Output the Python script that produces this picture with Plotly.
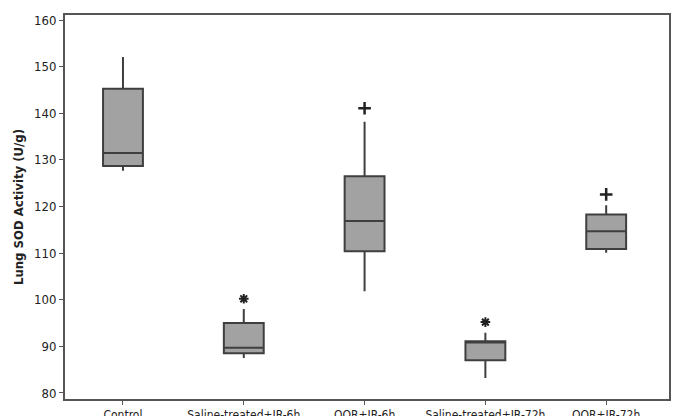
import plotly.graph_objects as go

categories = ["Control", "Saline-treated+IR-6h", "OOR+IR-6h", "Saline-treated+IR-72h", "OOR+IR-72h"]
lower_whisker = [127.7, 87.5, 101.8, 83.2, 110.1]
q1_vals = [128.7, 88.5, 110.4, 87.0, 110.9]
median_vals = [131.5, 89.7, 116.9, 90.8, 114.7]
q3_vals = [145.3, 95.0, 126.5, 91.1, 118.3]
upper_whisker = [152.1, 98.0, 138.2, 92.9, 120.3]

star_groups = ["Saline-treated+IR-6h", "Saline-treated+IR-72h"]
star_values = [100.2, 95.2]
plus_groups = ["OOR+IR-6h", "OOR+IR-72h"]
plus_values = [141.1, 122.6]

y_ticks = [80, 90, 100, 110, 120, 130, 140, 150, 160]

fig = go.Figure()
fig.add_trace(go.Box(
    x=categories, q1=q1_vals, median=median_vals, q3=q3_vals,
    lowerfence=lower_whisker, upperfence=upper_whisker,
    fillcolor="#a2a2a2", line=dict(color="#3f3f3f", width=2),
    whiskerwidth=0, width=0.33, boxpoints=False, showlegend=False,
))
fig.add_trace(go.Scatter(
    x=star_groups, y=star_values, mode="markers",
    marker=dict(symbol="asterisk-open", size=8, color="#222", line=dict(color="#222", width=2)),
    showlegend=False,
))
fig.add_trace(go.Scatter(
    x=plus_groups, y=plus_values, mode="markers",
    marker=dict(symbol="cross-thin-open", size=9, color="#222", line=dict(color="#222", width=2.5)),
    showlegend=False,
))

font_family = "DejaVu Sans Condensed, DejaVu Sans, Verdana, sans-serif"
fig.update_layout(
    width=676, height=416,
    margin=dict(l=65, r=7, t=15, b=17),
    paper_bgcolor="white", plot_bgcolor="white",
    font=dict(family=font_family, size=13, color="#222"),
    xaxis=dict(
        type="category", categoryorder="array", categoryarray=categories,
        range=[-0.48, 4.52], showgrid=False, zeroline=False, automargin=False,
        showline=True, linecolor="#555", linewidth=2, mirror=True,
        ticks="outside", ticklen=4, tickcolor="#555",
        tickfont=dict(size=12),
    ),
    yaxis=dict(
        range=[78.7, 161.1], tickvals=y_ticks, showgrid=False, zeroline=False, automargin=False,
        showline=True, linecolor="#555", linewidth=2, mirror=True,
        ticks="outside", ticklen=4, tickcolor="#555",
        tickfont=dict(size=13),
        title=dict(text="<b>Lung SOD Activity (U/g)</b>", font=dict(size=13), standoff=8),
    ),
)
fig.write_html("out.html")
